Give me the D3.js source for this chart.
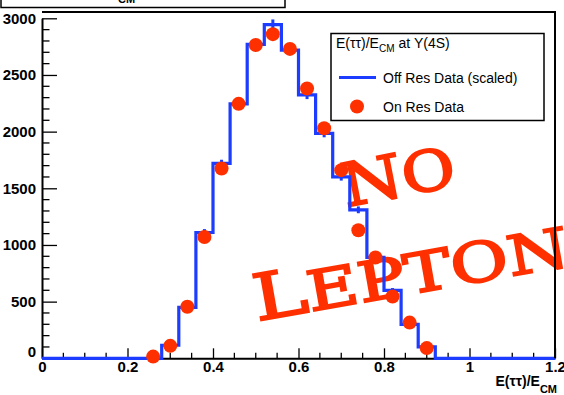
<!DOCTYPE html>
<html><head><meta charset="utf-8">
<script src="https://cdn.jsdelivr.net/npm/d3@7"></script>
<style>
body{margin:0;background:#fff;}
svg{display:block;}
</style></head>
<body>
<svg id="c" width="564" height="395"></svg>
<script>
// ---- data ----
const binWidth = 0.04;
const binLow = [0.24,0.28,0.32,0.36,0.40,0.44,0.48,0.52,0.56,0.60,0.64,0.68,0.72,0.76,0.80,0.84,0.88];
const offRes = [0,115,450,1110,1720,2245,2770,2945,2720,2325,1985,1600,1310,890,600,300,100];
const offErr = [0,15,25,30,32,36,42,45,42,38,35,32,30,25,20,15,10];
const onRes  = [15,110,455,1070,1675,2245,2765,2860,2730,2380,2030,1660,1130,890,545,315,90];
const xTicks = [0,0.2,0.4,0.6,0.8,1.0,1.2];
const xTickLabels = ["0","0.2","0.4","0.6","0.8","1","1.2"];
const yTicks = [0,500,1000,1500,2000,2500,3000];
const yTickLabels = ["0","500","1000","1500","2000","2500","3000"];
const legendTitle = ["E(\u03c4\u03c4)/E","CM"," at \u03a5(4S)"];
const legendLabels = ["Off Res Data (scaled)","On Res Data"];
const stampWords = ["NO","LEPTON"];

const BLUE = "#1c3dff", RED = "#ff3000";
const svg = d3.select("#c");
const L = 42, R = 555, T = 12, B = 358.3;
const x = d3.scaleLinear().domain([0,1.2]).range([L,R]);
const y = d3.scaleLinear().domain([0,3000]).range([B,18.3]);

// top (cut-off) title box
svg.append("rect").attr("x",1).attr("y",-30).attr("width",284).attr("height",37.5)
  .attr("fill","#fff").attr("stroke","#000").attr("stroke-width",1.5);
svg.append("text").attr("x",118).attr("y",-6).attr("text-anchor","end")
  .attr("font-family","Liberation Sans, Arial, sans-serif").attr("font-weight","bold").attr("font-size",15)
  .text(legendTitle[0]);
svg.append("text").attr("x",118).attr("y",2.6)
  .attr("font-family","Liberation Sans, Arial, sans-serif").attr("font-weight","bold").attr("font-size",11)
  .text(legendTitle[1]);

// minor ticks
const yMinor = d3.range(0,3001,100).filter(v=>v%500!==0);
svg.append("g").selectAll("line").data(yMinor).join("line")
  .attr("x1",L).attr("x2",L+7.5).attr("y1",d=>y(d)).attr("y2",d=>y(d))
  .attr("stroke","#000").attr("stroke-width",1.3);
const xMinor = d3.range(0,25).map(i=>i*0.05).filter(v=>Math.abs(v/0.2-Math.round(v/0.2))>1e-6);
svg.append("g").selectAll("line").data(xMinor).join("line")
  .attr("x1",d=>x(d)).attr("x2",d=>x(d)).attr("y1",B).attr("y2",B-5.5)
  .attr("stroke","#000").attr("stroke-width",1.3);

// axes
const yAxis = d3.axisLeft(y).tickValues(yTicks).tickFormat((d,i)=>yTickLabels[i])
  .tickSizeInner(-15).tickSizeOuter(0).tickPadding(6);
const gy = svg.append("g").attr("transform",`translate(${L},0)`).call(yAxis);
const xAxis = d3.axisBottom(x).tickValues(xTicks).tickFormat((d,i)=>xTickLabels[i])
  .tickSizeInner(-10).tickSizeOuter(0).tickPadding(5);
const gx = svg.append("g").attr("transform",`translate(0,${B})`).call(xAxis);
[gx,gy].forEach(g=>{
  g.selectAll("path.domain").attr("stroke","#000").attr("stroke-width",2);
  g.selectAll(".tick line").attr("stroke","#000").attr("stroke-width",1.3);
  g.selectAll(".tick text").attr("font-family","Liberation Sans, Arial, sans-serif")
    .attr("font-weight","bold").attr("font-size",15).attr("fill","#000");
});
gy.selectAll(".tick text").filter(d=>d===0).attr("dy","-0.1em");
gx.selectAll(".tick text").attr("dy","0.6em");

// x axis title
const xt = svg.append("text").attr("x",557).attr("y",386).attr("text-anchor","end")
  .attr("font-family","Liberation Sans, Arial, sans-serif").attr("font-weight","bold").attr("font-size",14);
xt.append("tspan").text(legendTitle[0]);
xt.append("tspan").attr("font-size",11).attr("dy",7).text(legendTitle[1]);

// stamp text
function stamp(word, px, py, ang, sx, big, small){
  const g = svg.append("g").attr("transform",`translate(${px},${py}) rotate(${ang}) scale(${sx},1)`);
  const t = g.append("text").attr("font-family","DejaVu Serif, serif")
    .attr("fill",RED).attr("stroke",RED).attr("stroke-width",2).attr("stroke-linejoin","miter")
    .attr("font-size",small);
  t.append("tspan").attr("font-size",big).text(word[0]);
  t.append("tspan").text(word.slice(1));
}
stamp(stampWords[0], 346, 207, -11, 1.16, 60, 56);
stamp(stampWords[1], 257, 321, -10, 1.28, 64, 55);

// histogram
const pts = [[0,0]];
binLow.forEach((b,i)=>pts.push([b,offRes[i]]));
pts.push([binLow[binLow.length-1]+binWidth,0]);
pts.push([1.2,0]);
const line = d3.line().x(d=>x(d[0])).y(d=>y(d[1])).curve(d3.curveStepAfter);
svg.append("path").attr("d",line(pts)).attr("fill","none").attr("stroke",BLUE).attr("stroke-width",3.2);
svg.append("g").selectAll("line").data(binLow.map((b,i)=>({c:b+binWidth/2,v:offRes[i],e:offErr[i]})).filter(d=>d.v>0))
  .join("line").attr("x1",d=>x(d.c)).attr("x2",d=>x(d.c)).attr("y1",d=>y(d.v-d.e)).attr("y2",d=>y(d.v+d.e))
  .attr("stroke",BLUE).attr("stroke-width",3);

// on-res points
svg.append("g").selectAll("circle").data(binLow.map((b,i)=>({c:b+binWidth/2,v:onRes[i]})))
  .join("circle").attr("cx",d=>x(d.c)).attr("cy",d=>y(d.v)).attr("r",7).attr("fill",RED);

// frame top / right
svg.append("path").attr("d",`M${L},${T}H${R}V${B}`).attr("fill","none").attr("stroke","#000").attr("stroke-width",2);

// legend
const lg = svg.append("g");
lg.append("rect").attr("x",331).attr("y",33.5).attr("width",213).attr("height",87)
  .attr("fill","#fff").attr("stroke","#000").attr("stroke-width",1.5);
const ltt = lg.append("text").attr("x",336).attr("y",48)
  .attr("font-family","Liberation Sans, Arial, sans-serif").attr("font-size",14);
ltt.append("tspan").text(legendTitle[0]);
ltt.append("tspan").attr("font-size",10).attr("dy",4).text(legendTitle[1]);
ltt.append("tspan").attr("dy",-4).text(legendTitle[2]);
lg.append("line").attr("x1",339).attr("x2",376).attr("y1",77.5).attr("y2",77.5).attr("stroke",BLUE).attr("stroke-width",3.2);
lg.append("circle").attr("cx",357).attr("cy",106.5).attr("r",7).attr("fill",RED);
lg.selectAll("text.li").data(legendLabels).join("text").attr("class","li")
  .attr("x",383).attr("y",(d,i)=>82.5+i*29)
  .attr("font-family","Liberation Sans, Arial, sans-serif").attr("font-size",14).text(d=>d);
</script>
</body></html>
